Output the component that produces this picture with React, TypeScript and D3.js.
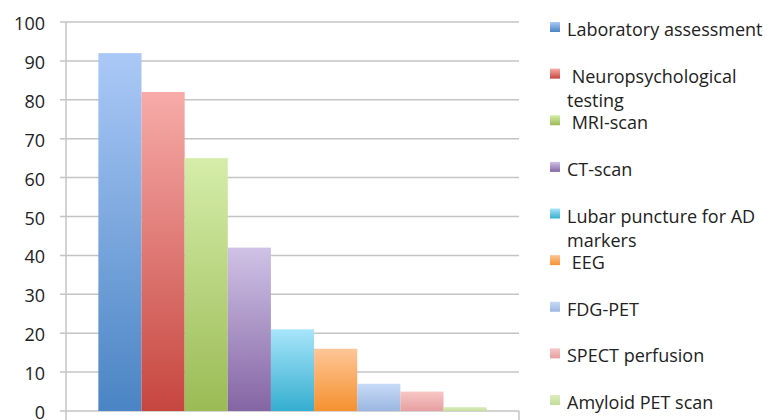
import React, { useMemo } from "react";
import * as d3 from "d3";

// Share of respondents using each diagnostic procedure (%)
const seriesNames = [
  "Laboratory assessment",
  " Neuropsychological testing",
  " MRI-scan",
  "CT-scan",
  "Lubar puncture for AD markers",
  " EEG",
  "FDG-PET",
  "SPECT perfusion",
  "Amyloid PET scan",
];
const seriesValues = [92, 82, 65, 42, 21, 16, 7, 5, 1];
const yTicks = [0, 10, 20, 30, 40, 50, 60, 70, 80, 90, 100];

// gradient fill per series: [top, bottom]
const seriesColors: [string, string][] = [
  ["#abc9f7", "#4a84c4"],
  ["#f7aba9", "#c6463f"],
  ["#d5eda9", "#9bbb55"],
  ["#d0c2e6", "#8465a4"],
  ["#a8e5fa", "#35aecf"],
  ["#fec697", "#f5912f"],
  ["#c7dbf8", "#9bb6e0"],
  ["#f8c6c6", "#e6a0a0"],
  ["#dcefbf", "#c2dd98"],
];

const W = 772;
const H = 420;
const plot = { left: 66, right: 519, top: 22, bottom: 411 };
const FONT = "'Open Sans', Lato, sans-serif";
const FONT_SIZE = 18;
const LEGEND_X = 550;
const LEGEND_TEXT_X = 567;
const LEGEND_MAX_W = 210;

function wrapLabel(label: string, ctx: CanvasRenderingContext2D | null): string[] {
  if (!ctx) return [label];
  const lead = label.match(/^\s*/)?.[0] ?? "";
  const words = label.trim().split(/\s+/);
  const lines: string[] = [];
  let cur = lead + words[0];
  for (let i = 1; i < words.length; i++) {
    const test = cur + " " + words[i];
    if (ctx.measureText(test).width > LEGEND_MAX_W) {
      lines.push(cur);
      cur = words[i];
    } else cur = test;
  }
  lines.push(cur);
  return lines;
}

export default function App() {
  const y = d3.scaleLinear().domain([0, 100]).range([plot.bottom, plot.top]);

  // single category; bar gap on each side = 150% of a bar width
  const gapRatio = 1.5;
  const n = seriesNames.length;
  const barW = (plot.right - plot.left) / (n + gapRatio);
  const groupStart = plot.left + (gapRatio * barW) / 2;
  const x = d3
    .scaleBand<string>()
    .domain(seriesNames)
    .range([groupStart, groupStart + n * barW])
    .padding(0);

  const legendLines = useMemo(() => {
    const canvas = typeof document !== "undefined" ? document.createElement("canvas") : null;
    const ctx = canvas ? canvas.getContext("2d") : null;
    if (ctx) ctx.font = `${FONT_SIZE}px 'Open Sans'`;
    return seriesNames.map((s) => wrapLabel(s, ctx));
  }, []);

  const legendStep = (395 - 22) / (n - 1);
  const gridColor = "#c4c4c4";

  return (
    <svg
      width={W}
      height={H}
      style={{ position: "absolute", left: 0, top: 0, background: "#fff" }}
      fontFamily={FONT}
    >
      <defs>
        {seriesColors.map(([top, bottom], i) => (
          <linearGradient key={i} id={`g${i}`} x1="0" y1="0" x2="0" y2="1">
            <stop offset="0%" stopColor={top} />
            <stop offset="100%" stopColor={bottom} />
          </linearGradient>
        ))}
      </defs>

      {/* gridlines with left ticks */}
      {yTicks.map((t) => (
        <line
          key={t}
          x1={plot.left - 6}
          x2={plot.right}
          y1={y(t)}
          y2={y(t)}
          stroke={gridColor}
          strokeWidth={1.5}
        />
      ))}
      {/* value axis */}
      <line x1={plot.left} x2={plot.left} y1={plot.top} y2={H} stroke={gridColor} strokeWidth={1.5} />
      {/* category axis end tick */}
      <line x1={plot.right} x2={plot.right} y1={plot.bottom} y2={H} stroke={gridColor} strokeWidth={1.5} />

      {yTicks.map((t) => (
        <text
          key={t}
          x={45}
          y={y(t) + 1}
          textAnchor="end"
          dominantBaseline="central"
          fontSize={FONT_SIZE}
          fill="#222"
        >
          {t}
        </text>
      ))}

      {seriesNames.map((s, i) => (
        <rect
          key={s}
          x={x(s)}
          y={y(seriesValues[i])}
          width={x.bandwidth()}
          height={y(0) - y(seriesValues[i])}
          fill={`url(#g${i})`}
        />
      ))}

      {/* legend */}
      {seriesNames.map((s, i) => {
        const top = 22 + i * legendStep;
        return (
          <g key={s}>
            <rect x={LEGEND_X} y={top} width={10} height={10} fill={`url(#g${i})`} />
            <text
              x={LEGEND_TEXT_X}
              y={top + 14}
              fontSize={FONT_SIZE}
              fill="#222"
              style={{ whiteSpace: "pre" }}
            >
              {legendLines[i].map((line, j) => (
                <tspan key={j} x={LEGEND_TEXT_X} dy={j === 0 ? 0 : 24}>
                  {line}
                </tspan>
              ))}
            </text>
          </g>
        );
      })}
    </svg>
  );
}
